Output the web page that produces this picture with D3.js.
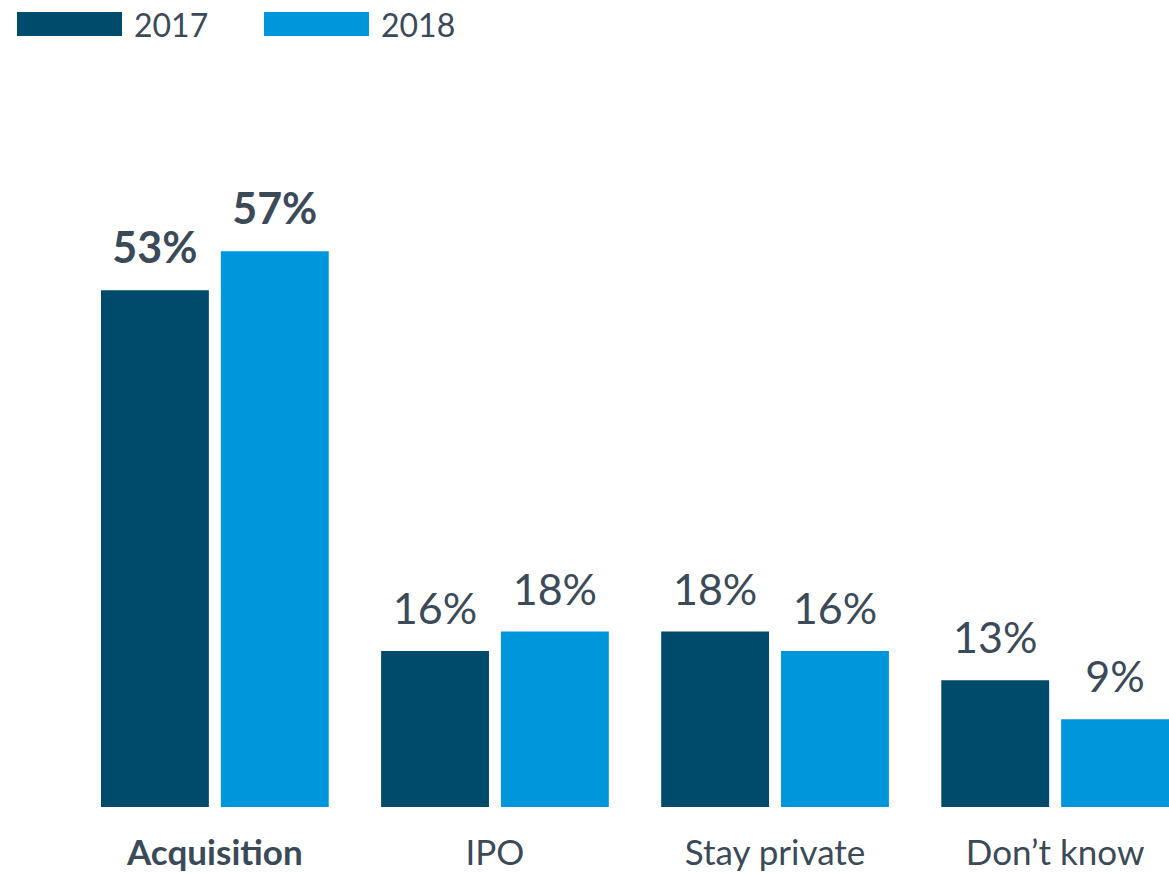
<!DOCTYPE html>
<html lang="en">
<head>
  <meta charset="UTF-8" />
  <title>Exit expectations</title>
  <script src="https://d3js.org/d3.v7.min.js"></script>
  <style>
    body { margin: 0; background: #fff; }
    text { font-family: Lato, "Open Sans", sans-serif; fill: #3b4a58; }
  </style>
</head>
<body>
<svg id="chart" width="1169" height="874"></svg>
<script>
const categories = ["Acquisition", "IPO", "Stay private", "Don\u2019t know"];
const years = ["2017", "2018"];
const values2017 = [53, 16, 18, 13];
const values2018 = [57, 18, 16, 9];
const colors = ["#004b6b", "#0096db"];

const svg = d3.select("#chart");
const baseline = 807;

const x0 = d3.scaleBand().domain(categories).range([101, 1169]).paddingInner(0.187).paddingOuter(0);
const x1 = d3.scaleBand().domain(years).range([0, x0.bandwidth()]).paddingInner(0.1);
const y = d3.scaleLinear().domain([0, 60]).range([baseline, baseline - 585]);
const color = d3.scaleOrdinal().domain(years).range(colors);

const rows = categories.map((c, i) => ({
  cat: c,
  vals: [{ year: "2017", v: values2017[i] }, { year: "2018", v: values2018[i] }]
}));

const groups = svg.append("g").selectAll("g")
  .data(rows)
  .join("g")
  .attr("transform", d => `translate(${x0(d.cat)},0)`);

groups.selectAll("rect")
  .data(d => d.vals)
  .join("rect")
  .attr("x", d => x1(d.year))
  .attr("y", d => y(d.v))
  .attr("width", x1.bandwidth())
  .attr("height", d => baseline - y(d.v))
  .attr("fill", d => color(d.year));

groups.each(function(d, i) {
  d3.select(this).selectAll("text.val")
    .data(d.vals)
    .join("text")
    .attr("class", "val")
    .attr("x", v => x1(v.year) + x1.bandwidth() / 2)
    .attr("y", v => y(v.v) - 27)
    .attr("text-anchor", "middle")
    .style("font-size", "43px")
    .style("font-weight", i === 0 ? "bold" : "normal")
    .text(v => v.v + "%");
});

// category labels
svg.append("g").selectAll("text")
  .data(categories)
  .join("text")
  .attr("x", d => x0(d) + x0.bandwidth() / 2)
  .attr("y", 865)
  .attr("text-anchor", "middle")
  .style("font-size", "35px")
  .style("font-weight", (d, i) => i === 0 ? "bold" : "normal")
  .text(d => d);

// legend
const legend = svg.append("g").selectAll("g")
  .data(years)
  .join("g")
  .attr("transform", (d, i) => `translate(${17 + i * 247},12)`);
legend.append("rect")
  .attr("width", 105)
  .attr("height", 24)
  .attr("fill", d => color(d));
legend.append("text")
  .attr("x", 117)
  .attr("y", 25)
  .style("font-size", "32px")
  .text(d => d);
</script>
</body>
</html>
